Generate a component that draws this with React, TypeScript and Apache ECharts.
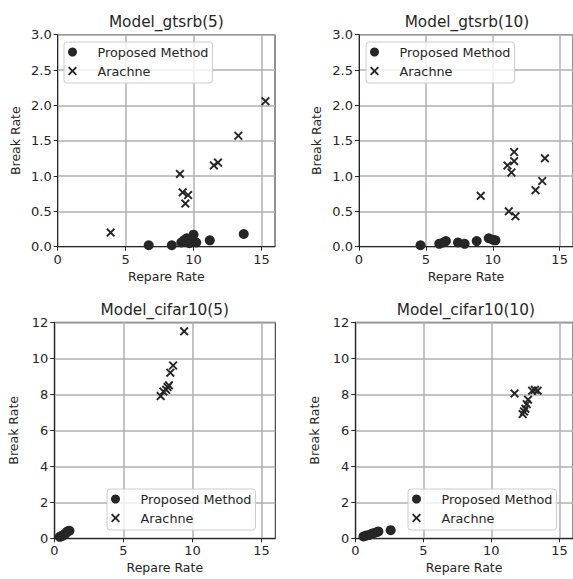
import React, { useEffect, useRef } from "react";
import * as echarts from "echarts";

const gtsrb5ProposedX = [6.7, 8.4, 9.1, 9.3, 9.5, 9.7, 10.0, 10.2, 11.2, 13.7];
const gtsrb5ProposedY = [0.02, 0.02, 0.06, 0.09, 0.12, 0.05, 0.17, 0.06, 0.09, 0.18];
const gtsrb5ArachneX = [3.9, 9.0, 9.2, 9.6, 9.4, 11.5, 11.8, 13.3, 15.3];
const gtsrb5ArachneY = [0.2, 1.03, 0.77, 0.73, 0.61, 1.15, 1.19, 1.57, 2.06];

const gtsrb10ProposedX = [4.6, 6.0, 6.3, 6.5, 7.4, 7.9, 8.8, 9.7, 10.0, 10.2];
const gtsrb10ProposedY = [0.02, 0.04, 0.06, 0.08, 0.06, 0.04, 0.08, 0.12, 0.1, 0.09];
const gtsrb10ArachneX = [9.1, 11.1, 11.2, 11.4, 11.6, 11.6, 11.7, 13.2, 13.7, 13.9];
const gtsrb10ArachneY = [0.72, 1.15, 0.5, 1.05, 1.21, 1.34, 0.43, 0.8, 0.93, 1.25];

const cifar5ProposedX = [0.4, 0.5, 0.6, 0.7, 0.8, 0.9, 1.0, 1.1];
const cifar5ProposedY = [0.08, 0.12, 0.15, 0.2, 0.25, 0.35, 0.4, 0.42];
const cifar5ArachneX = [7.7, 7.9, 8.1, 8.2, 8.3, 8.4, 8.6, 9.4];
const cifar5ArachneY = [7.9, 8.15, 8.25, 8.4, 8.5, 9.2, 9.6, 11.5];

const cifar10ProposedX = [0.6, 0.8, 1.0, 1.2, 1.4, 1.6, 1.7, 2.6];
const cifar10ProposedY = [0.1, 0.15, 0.18, 0.25, 0.3, 0.35, 0.38, 0.45];
const cifar10ArachneX = [11.7, 12.3, 12.4, 12.5, 12.6, 12.7, 13.0, 13.2, 13.4];
const cifar10ArachneY = [8.05, 6.9, 7.05, 7.2, 7.45, 7.7, 8.2, 8.25, 8.2];

const panelTitles = ["Model_gtsrb(5)", "Model_gtsrb(10)", "Model_cifar10(5)", "Model_cifar10(10)"];
const xTicks = [0, 5, 10, 15];
const seriesNames = ["Proposed Method", "Arachne"];
const xAxisName = "Repare Rate";
const yAxisName = "Break Rate";

const FONT = "DejaVu Sans";
const INK = "#262626";
const CROSS =
  "path://M1.5,0 L5,3.5 L8.5,0 L10,1.5 L6.5,5 L10,8.5 L8.5,10 L5,6.5 L1.5,10 L0,8.5 L3.5,5 L0,1.5 Z";

const zip = (xs: number[], ys: number[]) => xs.map((x, i) => [x, ys[i]]);

const panels = [
  {
    title: panelTitles[0],
    proposed: zip(gtsrb5ProposedX, gtsrb5ProposedY),
    arachne: zip(gtsrb5ArachneX, gtsrb5ArachneY),
    yMax: 3,
    yInterval: 0.5,
    decimals: 1,
    grid: { left: 57.7, top: 34.7, width: 217.3, height: 212 },
    titleY: 22,
    legend: { left: 64, top: 42 },
    yNameGap: 36,
  },
  {
    title: panelTitles[1],
    proposed: zip(gtsrb10ProposedX, gtsrb10ProposedY),
    arachne: zip(gtsrb10ArachneX, gtsrb10ArachneY),
    yMax: 3,
    yInterval: 0.5,
    decimals: 1,
    grid: { left: 359, top: 34.7, width: 216, height: 212 },
    titleY: 22,
    legend: { left: 366, top: 42 },
    yNameGap: 36,
  },
  {
    title: panelTitles[2],
    proposed: zip(cifar5ProposedX, cifar5ProposedY),
    arachne: zip(cifar5ArachneX, cifar5ArachneY),
    yMax: 12,
    yInterval: 2,
    decimals: 0,
    grid: { left: 54.3, top: 322.3, width: 221, height: 216 },
    titleY: 310,
    legend: { left: 107, top: 489 },
    yNameGap: 34.5,
  },
  {
    title: panelTitles[3],
    proposed: zip(cifar10ProposedX, cifar10ProposedY),
    arachne: zip(cifar10ArachneX, cifar10ArachneY),
    yMax: 12,
    yInterval: 2,
    decimals: 0,
    grid: { left: 355.3, top: 322.3, width: 221, height: 216 },
    titleY: 310,
    legend: { left: 408, top: 489 },
    yNameGap: 34,
  },
];

export default function App() {
  const ref = useRef<HTMLDivElement>(null);

  useEffect(() => {
    if (!ref.current) return;
    const chart = echarts.init(ref.current, undefined, { renderer: "svg" });

    const grids = panels.map((p) => ({
      ...p.grid,
      show: true,
      borderColor: INK,
      borderWidth: 1,
      backgroundColor: "#ffffff",
      containLabel: false,
    }));

    const xAxes = panels.map((p, i) => ({
      type: "value",
      gridIndex: i,
      min: 0,
      max: 16,
      interval: 5,
      name: xAxisName,
      nameLocation: "middle",
      nameGap: 23,
      nameTextStyle: { fontFamily: FONT, fontSize: 12.5, color: INK },
      axisLine: { show: true, onZero: false, lineStyle: { color: INK, width: 1 } },
      axisTick: { show: true, inside: false, length: 4, lineStyle: { color: INK }, customValues: xTicks },
      axisLabel: { fontFamily: FONT, fontSize: 13, color: INK, margin: 6, customValues: xTicks },
      splitLine: { show: true, lineStyle: { color: "#b0b0b0", width: 1.5 } },
    }));

    const yAxes = panels.map((p, i) => ({
      type: "value",
      gridIndex: i,
      min: 0,
      max: p.yMax,
      interval: p.yInterval,
      name: yAxisName,
      nameLocation: "middle",
      nameGap: p.yNameGap,
      nameTextStyle: { fontFamily: FONT, fontSize: 12.5, color: INK },
      axisLine: { show: true, onZero: false, lineStyle: { color: INK, width: 1 } },
      axisTick: { show: true, inside: false, length: 4, lineStyle: { color: INK } },
      axisLabel: {
        fontFamily: FONT,
        fontSize: 13,
        color: INK,
        margin: 6,
        formatter: (v: number) => v.toFixed(p.decimals),
      },
      splitLine: { show: true, lineStyle: { color: "#b0b0b0", width: 1.5 } },
    }));

    const series: any[] = [];
    panels.forEach((p, i) => {
      series.push({
        type: "scatter",
        name: seriesNames[0],
        xAxisIndex: i,
        yAxisIndex: i,
        data: p.proposed,
        symbol: "circle",
        symbolSize: 10,
        itemStyle: { color: INK, opacity: 1 },
        clip: true,
        z: 3,
      });
      series.push({
        type: "scatter",
        name: seriesNames[1],
        xAxisIndex: i,
        yAxisIndex: i,
        data: p.arachne,
        symbol: CROSS,
        symbolSize: 9,
        itemStyle: { color: INK, opacity: 1 },
        clip: true,
        z: 4,
      });
    });

    const legends = panels.map((p) => ({
      left: p.legend.left,
      top: p.legend.top,
      orient: "vertical",
      data: seriesNames,
      selectedMode: false,
      itemWidth: 28,
      itemHeight: 9,
      itemGap: 5,
      padding: [3, 4, 5, 4],
      backgroundColor: "rgba(255,255,255,0.8)",
      borderColor: "#cccccc",
      borderWidth: 1,
      borderRadius: 3,
      textStyle: {
        fontFamily: FONT,
        fontSize: 12.8,
        color: INK,
        lineHeight: 14,
        padding: [0, 0, 0, 6],
      },
      z: 10,
    }));

    const titles = panels.map((p) => ({
      type: "text",
      x: p.grid.left + p.grid.width / 2,
      y: p.titleY,
      style: {
        text: p.title,
        fontFamily: FONT,
        fontSize: 15.3,
        fill: INK,
        textAlign: "center",
        textVerticalAlign: "middle",
      },
    }));

    chart.setOption({
      animation: false,
      backgroundColor: "#ffffff",
      grid: grids,
      xAxis: xAxes,
      yAxis: yAxes,
      legend: legends,
      series,
      graphic: titles,
    } as any);

    return () => chart.dispose();
  }, []);

  return (
    <div
      ref={ref}
      style={{ position: "absolute", left: 0, top: 0, width: 573, height: 579 }}
    />
  );
}
